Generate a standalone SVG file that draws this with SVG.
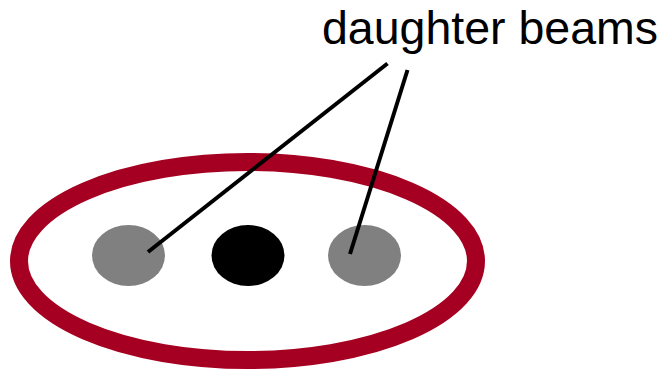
<svg xmlns="http://www.w3.org/2000/svg" width="663" height="369" viewBox="0 0 663 369">
<style>
.beam-d{fill:#808080}
.beam-p{fill:#000000}
.ring{fill:none;stroke:#A50021;stroke-width:18}
.conn{stroke:#000;stroke-width:4;fill:none}
.lbl{font-family:"Liberation Sans",Arial,sans-serif;font-size:46.5px;fill:#000}
</style>
<rect width="663" height="369" fill="#fff"/>
<g id="ring"><ellipse class="ring" cx="247.5" cy="261" rx="228.5" ry="99"/></g>
<g id="beam-left"><ellipse class="beam-d" cx="128.5" cy="255.5" rx="36.5" ry="30.5"/></g>
<g id="beam-center"><ellipse class="beam-p" cx="248" cy="255.5" rx="36.5" ry="30.5"/></g>
<g id="beam-right"><ellipse class="beam-d" cx="364.5" cy="255.5" rx="36.5" ry="30.5"/></g>
<g id="label"><text class="lbl" x="322" y="44" textLength="336" lengthAdjust="spacingAndGlyphs">daughter beams</text></g>
<g id="connectors">
<line class="conn" x1="387.5" y1="63.5" x2="148" y2="252"/>
<line class="conn" x1="407.5" y1="70" x2="350" y2="254"/>
</g>
</svg>
